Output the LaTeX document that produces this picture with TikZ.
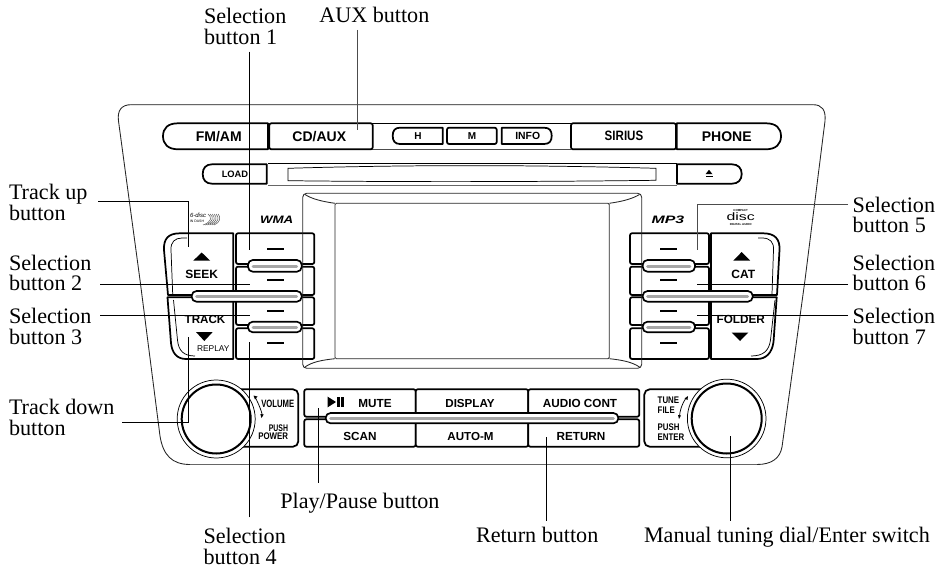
\documentclass[tikz,border=0pt]{standalone}
\usepackage{fontspec}
\usepackage{graphicx}
\setmainfont{Liberation Serif}
\newfontfamily\arl{Liberation Sans}
\usetikzlibrary{calc}
\newcommand{\pillbar}[4]{%
  \draw[black,line width=1.25pt,fill=white,rounded corners=3.6pt] (#1,#3) rectangle (#2,#4);
  \draw[gray!70,line width=2.2pt,line cap=round] ($(#1,#3)!0.5!(#1,#4)+(5,0.6)$) -- ($(#2,#3)!0.5!(#2,#4)+(-5,0.6)$);
}
\tikzset{
  every node/.style={inner sep=0pt,outer sep=0pt},
  lab/.style={font=\fontsize{16.6}{15.5}\selectfont,anchor=base west,align=left},
  btn/.style={font=\arl\bfseries\fontsize{#1}{#1}\selectfont,anchor=center},
  reg/.style={font=\arl\fontsize{#1}{#1}\selectfont,anchor=center},
  key/.style={draw=black,line width=1.3pt,fill=white,line join=round},
  thin line/.style={draw=black,line width=0.55pt},
  frameline/.style={draw=black!85,line width=0.65pt},
  leader/.style={draw=black,line width=0.6pt},
  dashkey/.style={draw=black,line width=1.3pt},
  tri/.style={fill=black},
}
\begin{document}
\begin{tikzpicture}[x=0.75pt,y=-0.75pt]
\useasboundingbox (0,0) rectangle (947,567);
% bezel
\draw[frameline] (131,104.7) .. controls (122,104.7) and (117,110) .. (118.5,121) -- (140,280) -- (160,436) .. controls (163,455) and (172,464.5) .. (190,464.5) -- (757,464.5) .. controls (772,464.5) and (780,458) .. (782,447) -- (805,280) -- (825,121) .. controls (826,110) and (822,104.7) .. (813,104.7) -- cycle;
\draw[draw=black!60,line width=1pt] (131,104.7) -- (813,104.7);
\draw[draw=black!60,line width=1.2pt] (190,464.5) -- (757,464.5);
% top row
\draw[thin line] (372,123.3) -- (571,123.3);
\draw[thin line,draw=black!70] (372,149.3) -- (571,149.3);
\path[key] (268,123.3) -- (268,149.3) -- (178,149.3) .. controls (168,149.3) and (163,144) .. (163,136.3) .. controls (163,128) and (168,123.3) .. (178,123.3) -- cycle;
\path[key,rounded corners=1.5pt] (269.3,123.3) rectangle (372.7,149.3);
\path[key] (400,127.7) -- (442.7,127.7) -- (442.7,144) -- (400,144) .. controls (395,144) and (392.7,141) .. (392.7,135.8) .. controls (392.7,130.5) and (395,127.7) .. (400,127.7) -- cycle;
\path[key,rounded corners=1.5pt] (447,127.7) rectangle (496.7,144);
\path[key] (501.7,127.7) -- (544,127.7) .. controls (549.5,127.7) and (551.7,130.5) .. (551.7,135.8) .. controls (551.7,141) and (549.5,144) .. (544,144) -- (501.7,144) -- cycle;
\path[key,rounded corners=1.5pt] (571,123.3) rectangle (676,149.3);
\path[key] (676.7,123.3) -- (766,123.3) .. controls (776,123.3) and (781,128) .. (781,136.3) .. controls (781,144) and (776,149.3) .. (766,149.3) -- (676.7,149.3) -- cycle;
% slot
\draw[thin line] (268,163.3) -- (677,163.3);
\draw[thin line,draw=black!60] (268,185) -- (677,185);
\draw[thin line] (288,168.3) .. controls (400,165) and (520,164.5) .. (656,168.3) -- (656,180.3) .. controls (520,182) and (400,182) .. (288,180.7) -- cycle;
\path[key] (212,164.3) -- (266.7,164.3) -- (266.7,183.7) -- (212,183.7) .. controls (206,183.7) and (202.7,180) .. (202.7,174) .. controls (202.7,168) and (206,164.3) .. (212,164.3) -- cycle;
\path[key] (677,164.3) -- (732,164.3) .. controls (738,164.3) and (741.7,168) .. (741.7,174) .. controls (741.7,180) and (738,183.7) .. (732,183.7) -- (677,183.7) -- cycle;
\path[tri] (705.5,174.2) -- (712.5,174.2) -- (709,169.8) -- cycle;
\fill (705.5,175.8) rectangle (712.5,177);
% left key block
\path[key] (233.3,233.3) -- (233.3,295) -- (168,295) -- (164,250) .. controls (163.5,239) and (168,233.3) .. (180,233.3) -- cycle;
\path[key] (233.3,297.3) -- (233.3,359) -- (186,359) .. controls (177,359) and (172,353) .. (171,343) -- (167.5,297.3) -- cycle;
\draw[thin line] (187,238) -- (182,238) .. controls (175,238) and (170.5,242) .. (171,250) -- (172.7,294);
\draw[thin line] (173.5,300) -- (177.5,340) .. controls (178.5,351) and (184,356) .. (195,356);
\path[key,rounded corners=1.5pt] (236,233.3) rectangle (314.3,264);
\path[key,rounded corners=1.5pt] (236,266.7) rectangle (314.3,295);
\path[key,rounded corners=1.5pt] (236,297.3) rectangle (314.3,325);
\path[key,rounded corners=1.5pt] (236,328.3) rectangle (314.3,359);
\draw[dashkey] (267.3,249) -- (284,249);
\draw[dashkey] (267.3,280) -- (284,280);
\draw[dashkey] (267.3,311) -- (284,311);
\draw[dashkey] (267.3,342.7) -- (284,342.7);
\pillbar{248}{301.7}{260}{271.7}
\pillbar{248}{301.7}{321.7}{332.3}
\pillbar{191.7}{301.7}{291}{301.7}
% right key block
\path[key,rounded corners=1.5pt] (630,233.3) rectangle (709,264);
\path[key,rounded corners=1.5pt] (630,266.7) rectangle (709,295);
\path[key,rounded corners=1.5pt] (630,297.3) rectangle (709,325);
\path[key,rounded corners=1.5pt] (630,328.3) rectangle (709,359);
\path[key] (711,233.3) -- (763,233.3) .. controls (775,233.3) and (780,239) .. (779.5,250) -- (777,295) -- (711,295) -- cycle;
\path[key] (711,297.3) -- (776.7,297.3) -- (773.5,342) .. controls (772,353) and (766,359) .. (757,359) -- (711,359) -- cycle;
\draw[thin line] (758,238) -- (762,238) .. controls (770,238) and (774,242) .. (773.5,250) -- (772,294);
\draw[thin line] (775,300) -- (770.5,340) .. controls (769,351) and (763,356) .. (751,356);
\draw[dashkey] (660,249) -- (676.7,249);
\draw[dashkey] (660,280) -- (676.7,280);
\draw[dashkey] (660,311) -- (676.7,311);
\draw[dashkey] (660,342.7) -- (676.7,342.7);
\pillbar{642.7}{695}{260}{271.7}
\pillbar{642.7}{695}{321.7}{332.3}
\pillbar{642.7}{752.7}{291}{301.7}
% screen
\draw[frameline,rounded corners=3pt] (302.7,193.3) rectangle (641.7,368.3);
\draw[frameline,rounded corners=1pt] (335,203.3) rectangle (609.3,358.7);
\draw[frameline] (305,194.5) .. controls (312,199) and (322,201.5) .. (335,203.3);
\draw[frameline] (639.5,194.5) .. controls (632,199) and (622,201.5) .. (609.3,203.3);
\draw[frameline] (305,367) .. controls (312,362) and (322,360) .. (335,358.7);
\draw[frameline] (639.5,367) .. controls (632,362) and (622,360) .. (609.3,358.7);
% middle bank
\path[key,rounded corners=1.5pt] (304.3,389.3) rectangle (415.7,416.7);
\path[key,rounded corners=1.5pt] (415.7,389.3) rectangle (528.3,416.7);
\path[key,rounded corners=1.5pt] (528.3,389.3) rectangle (639.3,416.7);
\path[key,rounded corners=1.5pt] (304.3,419.3) rectangle (415.7,446.7);
\path[key,rounded corners=1.5pt] (415.7,419.3) rectangle (528.3,446.7);
\path[key,rounded corners=1.5pt] (528.3,419.3) rectangle (639.3,446.7);
\pillbar{325.7}{618.3}{413}{423.3}
\path[tri] (327.7,396.7) -- (336,402) -- (327.7,407.3) -- cycle;
\fill (337.3,396.7) rectangle (340,407.3);
\fill (341.3,396.7) rectangle (344,407.3);
% dials
\path[key,rounded corners=4pt] (225,389.3) -- (298.3,389.3) -- (298.3,446.7) -- (225,446.7) -- cycle;
\path[key,rounded corners=4pt] (740,389.3) -- (644.3,389.3) -- (644.3,446.7) -- (740,446.7) -- cycle;
\draw[thin line,fill=white] (216.2,419) circle (39);
\draw[black,line width=1.5pt,fill=white] (216.2,419) circle (34.5);
\draw[thin line,fill=white] (726.7,418.5) circle (39.3);
\draw[black,line width=1.5pt,fill=white] (726.7,418.5) circle (35);
\draw[thin line] (255,397) .. controls (261,408) and (263,417) .. (262,415);
\path[tri] (253.5,395.5) -- (257.5,396.5) -- (255,399.5) -- cycle;
\path[tri] (260.3,414) -- (263.7,414.5) -- (261.5,418) -- cycle;
\draw[thin line] (686,398) .. controls (682,404) and (680,410) .. (679.5,416);
\path[tri] (684.5,398.5) -- (688,396) -- (687.5,400) -- cycle;
\path[tri] (678,415) -- (681,415.5) -- (679,419) -- cycle;
% button texts
\node[btn=10.5] (tFm) at (218.8,136.7) {FM/AM};
\node[btn=10.5] (tCd) at (319.3,136.7) {CD/AUX};
\node[btn=7.5] (tH) at (418,136) {H};
\node[btn=7.5] (tM) at (472,136) {M};
\node[btn=7.8] (tInfo) at (527.7,136) {INFO};
\node[btn=10.2] (tSir) at (624,135.7) {\scalebox{.85}[1]{SIRIUS}};
\node[btn=10.5] (tPh) at (726.7,136.7) {PHONE};
\node[btn=7] (tLoad) at (235,174) {LOAD};
\node[font=\arl\bfseries\itshape\fontsize{9.5}{9.5}\selectfont] (tWma) at (276.7,220) {\scalebox{1.05}[.85]{WMA}};
\node[font=\arl\bfseries\itshape\fontsize{9.5}{9.5}\selectfont] (tMp) at (668,220) {\scalebox{1.25}[.85]{MP3}};
\node[btn=9] (tSeek) at (201.7,274) {SEEK};
\path[tri] (193.4,260.5) -- (210,260.5) -- (201.7,252.5) -- cycle;
\node[btn=8.7] (tTrack) at (205,319.3) {TRACK};
\path[tri] (196,332) -- (212.7,332) -- (204.3,341) -- cycle;
\node[reg=6.3] (tReplay) at (213.3,348.7) {REPLAY};
\node[btn=9] (tCat) at (743.3,274.3) {CAT};
\path[tri] (733.4,260.5) -- (750,260.5) -- (741.7,252) -- cycle;
\node[btn=8.8] (tFolder) at (740.7,319) {FOLDER};
\path[tri] (731.7,332.5) -- (748.4,332.5) -- (740,341) -- cycle;
\node[btn=8.8] (tMute) at (375,403.3) {MUTE};
\node[btn=8.8] (tScan) at (360,436.7) {SCAN};
\node[btn=8.7] (tDisp) at (470,403.3) {DISPLAY};
\node[btn=8.7] (tAuto) at (470.5,436.7) {AUTO-M};
\node[btn=8.8] (tAudio) at (580,403.3) {AUDIO CONT};
\node[btn=8.8] (tRet) at (581,436.7) {RETURN};
\node[font=\arl\bfseries\fontsize{8}{8}\selectfont] (tVol) at (277.7,404.3) {\scalebox{.72}[1]{VOLUME}};
\node[font=\arl\bfseries\fontsize{7.2}{7.2}\selectfont,anchor=east] (tPush) at (288,427.7) {\scalebox{.72}[1]{PUSH}};
\node[font=\arl\bfseries\fontsize{7.2}{7.2}\selectfont,anchor=east] (tPow) at (288,436.3) {\scalebox{.82}[1]{POWER}};
\node[font=\arl\bfseries\fontsize{7.2}{7.2}\selectfont,anchor=west] (tTune) at (657.7,400) {\scalebox{.82}[1]{TUNE}};
\node[font=\arl\bfseries\fontsize{7.2}{7.2}\selectfont,anchor=west] (tFile) at (657.7,410) {\scalebox{.82}[1]{FILE}};
\node[font=\arl\bfseries\fontsize{7.2}{7.2}\selectfont,anchor=west] (tPush2) at (657.7,427) {\scalebox{.82}[1]{PUSH}};
\node[font=\arl\bfseries\fontsize{7.2}{7.2}\selectfont,anchor=west] (tEnter) at (657.7,436.7) {\scalebox{.82}[1]{ENTER}};
% logos
\node[font=\arl\itshape\fontsize{4.5}{4.5}\selectfont,anchor=west] (tSix) at (190,215.5) {6-disc};
\node[font=\arl\fontsize{2.6}{2.6}\selectfont,anchor=west] (tDash) at (190,221.5) {IN DASH};
\foreach \i in {0,...,5} \draw[black!70,line width=0.35pt] ($(208,214)+(\i*2,0)$) .. controls ($(212,214)+(\i*1.8,3)$) and ($(212,220)+(\i*1.8,2)$) .. ($(203,225)+(\i*2.2,0)$);
\node[font=\arl\bfseries\fontsize{2.2}{2.2}\selectfont] (tComp) at (740.7,210.5) {COMPACT};
\node[font=\arl\fontsize{7}{7}\selectfont] (tDisc) at (740.7,217) {\scalebox{1.7}[1.15]{disc}};
\node[font=\arl\bfseries\fontsize{2.2}{2.2}\selectfont] (tDig) at (740.7,224.7) {DIGITAL AUDIO};
% labels (anchored on last baseline)
\node[lab] (lSel1) at (204,44.3) {Selection\\button 1};
\node[lab] (lAux) at (319.3,22.7) {AUX button};
\node[lab] (lUp) at (9,220) {Track up\\button};
\node[lab] (lSel2) at (9,290.7) {Selection\\button 2};
\node[lab] (lSel3) at (9,344) {Selection\\button 3};
\node[lab] (lDown) at (9,435.6) {Track down\\button};
\node[lab] (lSel5) at (852.7,232.7) {Selection\\button 5};
\node[lab] (lSel6) at (852.7,290.7) {Selection\\button 6};
\node[lab] (lSel7) at (852.7,344) {Selection\\button 7};
\node[lab] (lPlay) at (280.3,508) {Play/Pause button};
\node[lab] (lSel4) at (203.5,564) {Selection\\button 4};
\node[lab] (lRet) at (476,542.7) {Return button};
\node[lab] (lMan) at (644,542.7) {Manual tuning dial/Enter switch};
% connector ends
\coordinate (cSel1) at (249.3,250);
\coordinate (cAux) at (357.7,130);
\coordinate (cUp) at (188.3,246.7);
\coordinate (cSel2) at (250,284.3);
\coordinate (cSel3) at (250,315.3);
\coordinate (cDown) at (188.3,337.3);
\coordinate (cSel4) at (249.3,341.7);
\coordinate (cPlay) at (318.3,408);
\coordinate (cRet) at (546,437);
\coordinate (cMan) at (730,436);
\coordinate (cSel5) at (697.3,250);
\coordinate (cSel6) at (697.3,284.3);
\coordinate (cSel7) at (697.3,315.5);
\coordinate (sSel1) at (249.3,51.7);
\coordinate (sAux) at (357.7,30);
\coordinate (sUp) at (98,201.7);
\coordinate (sSel2) at (100,284.3);
\coordinate (sSel3) at (100,315.3);
\coordinate (sDown) at (122,422.7);
\coordinate (sSel4) at (249.3,517.3);
\coordinate (sPlay) at (318.3,482.7);
\coordinate (sRet) at (546,520.7);
\coordinate (sMan) at (730,520.7);
\coordinate (sSel5) at (848,204.7);
\coordinate (sSel6) at (848,284.3);
\coordinate (sSel7) at (848,315.5);
% connectors
\draw[leader] (sSel1) -- (cSel1);
\draw[leader,draw=black!70,line width=0.8pt] (sAux) -- (cAux);
\draw[leader] (sUp) -- (sUp -| cUp) -- (cUp);
\draw[leader] (sSel2) -- (cSel2);
\draw[leader] (sSel3) -- (cSel3);
\draw[leader] (sDown) -- (sDown -| cDown) -- (cDown);
\draw[leader] (sSel4) -- (cSel4);
\draw[leader] (sPlay) -- (cPlay);
\draw[leader] (sRet) -- (cRet);
\draw[leader] (sMan) -- (cMan);
\draw[leader,draw=black!70,line width=0.8pt] (sSel5) -- (sSel5 -| cSel5) -- (cSel5);
\draw[leader] (sSel6) -- (cSel6);
\draw[leader] (sSel7) -- (cSel7);
\end{tikzpicture}
\end{document}
